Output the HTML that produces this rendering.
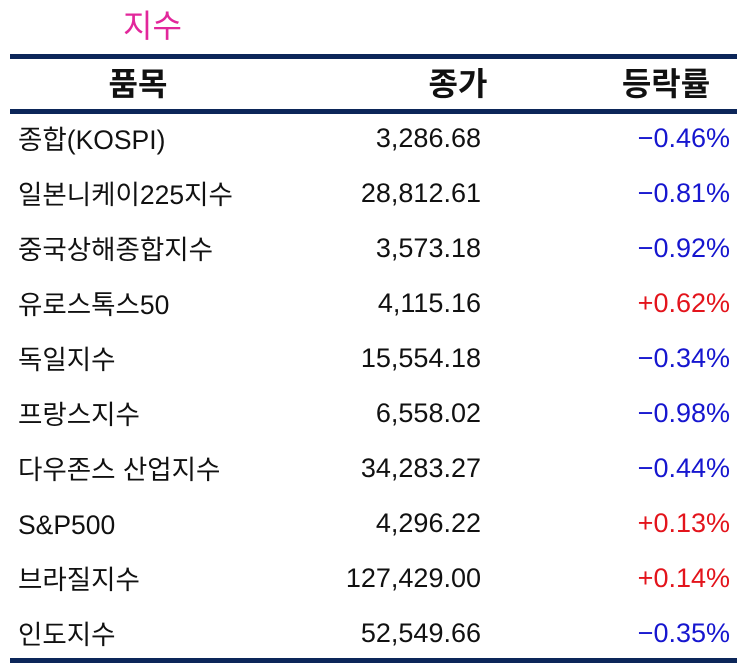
<!DOCTYPE html>
<html>
<head>
<meta charset="utf-8">
<style>
  html,body{margin:0;padding:0;background:#fff;}
  body{width:742px;height:669px;position:relative;overflow:hidden;
       font-family:"Liberation Sans","Noto Sans CJK KR",sans-serif;color:#111;}
  .line{position:absolute;left:10px;width:727px;height:5px;background:#0c2659;}
  .title{position:absolute;left:90px;width:125px;top:6px;height:40px;line-height:40px;text-align:center;
         font-family:"Liberation Sans","Noto Sans CJK KR",sans-serif;font-size:32px;color:#e2279b;}
  .hd{position:absolute;top:61px;height:46px;line-height:46px;font-size:32px;font-weight:700;
      font-family:"Liberation Sans","Noto Sans CJK KR",sans-serif;color:#111;text-align:center;width:180px;}
  .row{position:absolute;left:0;width:742px;height:55px;line-height:55px;}
  .nm{position:absolute;left:18px;top:2px;font-size:26.5px;white-space:nowrap;}
  .pr{position:absolute;right:261px;top:0;font-size:27px;white-space:nowrap;}
  .pc{position:absolute;right:12px;top:0;font-size:27px;white-space:nowrap;}
  .b{color:#1616cf;}
  .r{color:#e3141c;}
</style>
</head>
<body>
<div class="title">지수</div>
<div class="line" style="top:54px;"></div>
<div class="hd" style="left:48px;">품목</div>
<div class="hd" style="left:368px;">종가</div>
<div class="hd" style="left:576px;">등락률</div>
<div class="line" style="top:109px;"></div>

<div class="row" style="top:111px;"><span class="nm">종합(KOSPI)</span><span class="pr">3,286.68</span><span class="pc b">−0.46%</span></div>
<div class="row" style="top:166px;"><span class="nm">일본니케이225지수</span><span class="pr">28,812.61</span><span class="pc b">−0.81%</span></div>
<div class="row" style="top:221px;"><span class="nm">중국상해종합지수</span><span class="pr">3,573.18</span><span class="pc b">−0.92%</span></div>
<div class="row" style="top:276px;"><span class="nm">유로스톡스50</span><span class="pr">4,115.16</span><span class="pc r">+0.62%</span></div>
<div class="row" style="top:331px;"><span class="nm">독일지수</span><span class="pr">15,554.18</span><span class="pc b">−0.34%</span></div>
<div class="row" style="top:386px;"><span class="nm">프랑스지수</span><span class="pr">6,558.02</span><span class="pc b">−0.98%</span></div>
<div class="row" style="top:441px;"><span class="nm">다우존스 산업지수</span><span class="pr">34,283.27</span><span class="pc b">−0.44%</span></div>
<div class="row" style="top:496px;"><span class="nm">S&amp;P500</span><span class="pr">4,296.22</span><span class="pc r">+0.13%</span></div>
<div class="row" style="top:551px;"><span class="nm">브라질지수</span><span class="pr">127,429.00</span><span class="pc r">+0.14%</span></div>
<div class="row" style="top:606px;"><span class="nm">인도지수</span><span class="pr">52,549.66</span><span class="pc b">−0.35%</span></div>

<div class="line" style="top:658px;"></div>
</body>
</html>
